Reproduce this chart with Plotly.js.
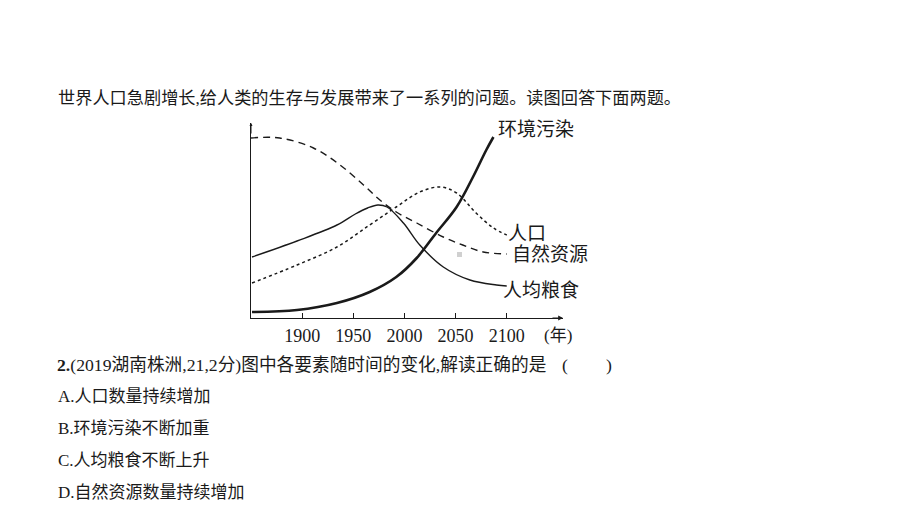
<!DOCTYPE html>
<html>
<head>
<meta charset="utf-8">
<script src="https://cdn.plot.ly/plotly-3.0.1.min.js"></script>
<style>html,body{margin:0;padding:0;background:#fff;}#chart{width:920px;height:515px;}</style>
</head>
<body>
<div id="chart"></div>
<script>
// Data (values = relative level)
const resYears = [1850, 1878, 1911, 1937, 1960, 1976, 1992, 2012, 2038, 2057, 2077, 2100];
const resValues = [180, 180, 170, 153, 133, 118, 106, 95, 81, 73, 66, 64];

const popYears = [1851, 1895, 1934, 1966, 1992, 2015, 2035, 2051, 2070, 2087, 2100];
const popValues = [35, 53, 71, 93, 111, 126, 131, 125, 105, 90, 83];

const grainYears = [1851, 1895, 1934, 1952, 1964, 1974, 1983, 1999, 2015, 2038, 2064, 2090, 2100];
const grainValues = [61, 77, 93, 104, 110, 113, 111, 95, 73, 51, 38, 33, 32];

const polYears = [1851, 1895, 1934, 1966, 1992, 2012, 2031, 2051, 2067, 2080, 2087];
const polValues = [6, 8, 15, 26, 41, 60, 85, 111, 141, 168, 181];

const tickYears = [1900, 1950, 2000, 2050, 2100];
const tickLabels = ['1900', '1950', '2000', '2050', '2100'];

const seriesNames = ['自然资源', '人口', '人均粮食', '环境污染'];

const headText = '世界人口急剧增长,给人类的生存与发展带来了一系列的问题。读图回答下面两题。';
const questionText = '<b>2.</b>(2019湖南株洲,21,2分)图中各要素随时间的变化,解读正确的是';
const options = ['A.人口数量持续增加', 'B.环境污染不断加重', 'C.人均粮食不断上升', 'D.自然资源数量持续增加'];

// Layout geometry
const W = 920, H = 515;
const L = 251, R = 563, T = 123, B = 318;
const px = x => (x - L) / (R - L);
const py = y => (B - y) / (B - T);

const ink = '#1a1a1a';
const cjk = '"Liberation Serif", "Noto Sans CJK SC", serif';

const traces = [
  {x: resYears, y: resValues, name: seriesNames[0], mode: 'lines', line: {color: ink, width: 1.4, dash: '7px,5px', shape: 'spline', smoothing: 1}},
  {x: popYears, y: popValues, name: seriesNames[1], mode: 'lines', line: {color: ink, width: 1.5, dash: 'dot', shape: 'spline', smoothing: 1}},
  {x: grainYears, y: grainValues, name: seriesNames[2], mode: 'lines', line: {color: ink, width: 1.4, shape: 'spline', smoothing: 1}},
  {x: polYears, y: polValues, name: seriesNames[3], mode: 'lines', line: {color: ink, width: 2.6, shape: 'spline', smoothing: 1}}
];

const ann = [];
function txt(text, x, y, size, anchor, extra) {
  ann.push(Object.assign({text: text, xref: 'paper', yref: 'paper', x: px(x), y: py(y), xanchor: anchor || 'left', yanchor: 'middle', showarrow: false, font: {family: cjk, size: size, color: ink}}, extra || {}));
}
// series labels
txt(seriesNames[3], 496, 129, 19);
txt(seriesNames[1], 506, 233, 19);
txt(seriesNames[0], 510, 254, 19);
txt(seriesNames[2], 501, 290, 19);
txt('(年)', 542, 335, 17);
// page text
txt(headText, 56, 98, 17.2);
txt(questionText, 55, 365, 17.7);
txt('(', 560, 365, 17.7);
txt(')', 604, 365, 17.7);
options.forEach((o, i) => txt(o, 56, 396 + i * 32, 17));
// axis arrows
ann.push({xref: 'paper', yref: 'paper', x: 1, y: 0, ax: -12, ay: 0, text: '', showarrow: true, arrowhead: 2, arrowsize: 0.8, arrowwidth: 1.2, arrowcolor: ink});
ann.push({xref: 'paper', yref: 'paper', x: 0, y: 1, ax: 0, ay: 12, text: '', showarrow: true, arrowhead: 2, arrowsize: 0.6, arrowwidth: 1, arrowcolor: ink});

const layout = {
  width: W, height: H, autosize: false,
  margin: {l: L, r: W - R, t: T, b: H - B, pad: 0},
  paper_bgcolor: '#fff', plot_bgcolor: '#fff',
  showlegend: false,
  xaxis: {range: [1850, 2155], showgrid: false, zeroline: false, showline: true, linecolor: ink, linewidth: 1.3,
    tickvals: tickYears, ticktext: tickLabels, ticks: 'inside', ticklen: 5, tickcolor: ink, tickwidth: 1,
    tickfont: {family: '"Liberation Serif", serif', size: 18, color: ink}, ticklabelstandoff: 1},
  yaxis: {range: [0, 195], showgrid: false, zeroline: false, showline: true, linecolor: ink, linewidth: 1.3, showticklabels: false, ticks: ''},
  annotations: ann,
  shapes: [{type: 'rect', xref: 'paper', yref: 'paper', x0: px(457), x1: px(462), y0: py(257), y1: py(252), fillcolor: '#d0d0d0', line: {width: 0}}]
};

Plotly.newPlot('chart', traces, layout, {displayModeBar: false, staticPlot: true});
</script>
</body>
</html>
